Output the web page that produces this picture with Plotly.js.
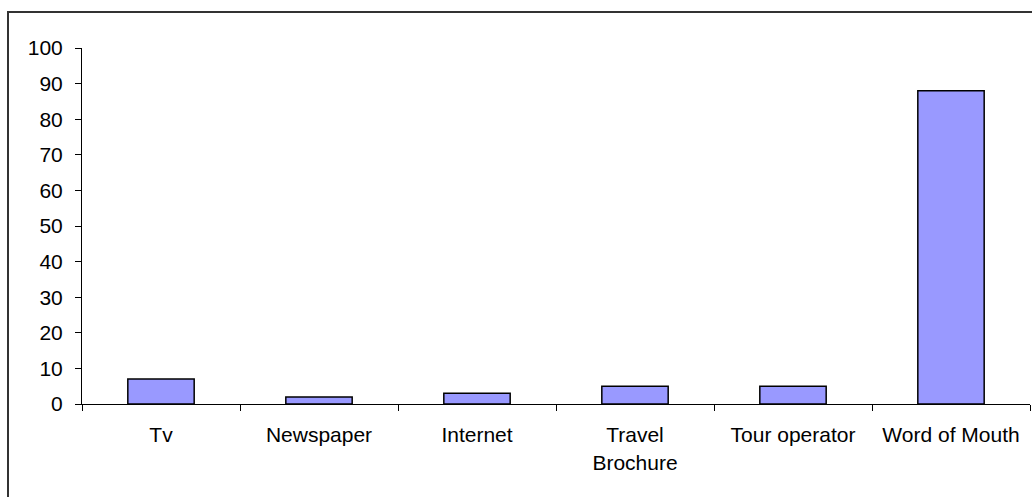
<!DOCTYPE html>
<html>
<head>
<meta charset="utf-8">
<script src="https://cdn.plot.ly/plotly-3.0.1.min.js"></script>
<style>
html,body{margin:0;padding:0;background:#fff;overflow:hidden;width:1032px;height:497px;}
#frame{position:absolute;left:7px;top:11px;width:1100px;height:600px;border:2px solid #333;box-sizing:border-box;}
#chart{position:absolute;left:0;top:0;width:1032px;height:497px;}
</style>
</head>
<body>
<div id="frame"></div>
<div id="chart"></div>
<script>
const categories = ["Tv", "Newspaper", "Internet", "Travel<br>Brochure", "Tour operator", "Word of Mouth"];
const values = [7, 2, 3, 5, 5, 88];
const yTicks = [0, 10, 20, 30, 40, 50, 60, 70, 80, 90, 100];

const font = {family: "'Liberation Sans', Arial, sans-serif", size: 21, color: "#000"};

Plotly.newPlot("chart", [{
  type: "bar",
  x: categories,
  y: values,
  marker: {color: "#9999FF", line: {color: "#000", width: 1.5}},
  hoverinfo: "none"
}], {
  width: 1032, height: 497,
  margin: {l: 82, r: 2, t: 48, b: 93, pad: 0},
  paper_bgcolor: "rgba(0,0,0,0)",
  plot_bgcolor: "rgba(0,0,0,0)",
  font: font,
  bargap: 0.58,
  showlegend: false,
  xaxis: {
    type: "category",
    showline: true, linecolor: "#000", linewidth: 1,
    ticks: "outside", tickson: "boundaries", ticklen: 6, tickcolor: "#000", tickwidth: 1,
    showgrid: false, zeroline: false,
    tickfont: font, ticklabelstandoff: 12
  },
  yaxis: {
    range: [0, 100],
    tickvals: yTicks,
    showline: true, linecolor: "#000", linewidth: 1,
    ticks: "outside", ticklen: 6, tickcolor: "#000", tickwidth: 1,
    showgrid: false, zeroline: false,
    tickfont: font, ticklabelstandoff: 8
  }
}, {staticPlot: true});
</script>
</body>
</html>
